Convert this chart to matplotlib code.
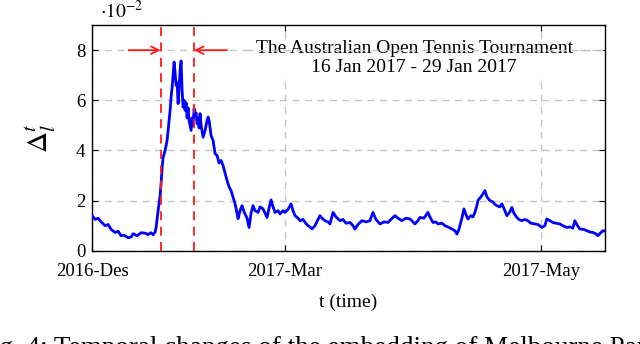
import matplotlib
matplotlib.use("Agg")
import matplotlib.pyplot as plt
import numpy as np

plt.rcParams.update(
    {
        "font.family": "Liberation Serif",
        "mathtext.fontset": "stix",
        "font.size": 13.5,
    }
)

# sample index along the time axis and Delta_l^t readings (in units of 1e-2)
t = [0, 3, 6, 9, 13, 16, 19, 23, 26, 29, 32, 36, 39, 41, 45, 49, 53, 56, 59, 61,
     63, 64, 66, 68, 69, 70, 71, 73, 75, 77, 78, 79, 80, 81, 82, 83, 84, 85, 86, 87,
     88, 89, 90, 91, 92, 93, 94, 95, 96, 97, 98, 99, 100, 101, 102, 103, 104, 105, 106, 107,
     108, 109, 111, 113, 115, 116, 117, 119, 121, 123, 125, 127, 129, 131, 133, 135, 137, 139, 140, 142,
     143, 145, 146, 148, 150, 152, 153, 155, 157, 159, 161, 163, 166, 168, 171, 173, 175, 177, 179, 181,
     183, 186, 188, 191, 193, 196, 199, 201, 203, 206, 208, 211, 213, 216, 218, 220, 223, 226, 228, 230,
     233, 236, 238, 241, 244, 248, 251, 254, 258, 261, 263, 266, 270, 274, 278, 281, 284, 288, 292, 296,
     299, 303, 306, 310, 314, 318, 321, 323, 326, 328, 332, 336, 338, 341, 344, 346, 350, 353, 356, 360,
     363, 365, 367, 368, 370, 372, 374, 376, 379, 381, 383, 385, 386, 388, 390, 393, 395, 398, 401, 403,
     405, 408, 410, 413, 415, 418, 420, 422, 425, 427, 430, 433, 436, 439, 443, 446, 450, 453, 455, 458,
     461, 464, 468, 471, 475, 478, 481, 483, 485, 488, 492, 495, 498, 501, 504, 506, 509, 511, 513]
delta = [1.40, 1.25, 1.30, 1.15, 1.00, 1.05, 0.85, 0.73, 0.78, 0.60, 0.62, 0.52, 0.55, 0.68, 0.60, 0.72, 0.70, 0.65, 0.72, 0.64,
         0.75, 0.93, 1.60, 2.20, 2.70, 3.30, 3.73, 4.00, 4.40, 5.20, 5.60, 6.13, 6.50, 7.00, 7.53, 7.10, 6.60, 6.70, 5.87, 6.50,
         7.20, 7.57, 6.40, 5.73, 6.00, 5.60, 5.90, 5.30, 5.70, 5.20, 5.00, 4.80, 5.30, 5.00, 5.67, 5.40, 5.50, 5.07, 5.30, 4.90,
         5.47, 5.00, 4.53, 4.80, 5.20, 5.33, 5.20, 4.60, 4.40, 3.87, 3.80, 3.50, 3.60, 3.40, 3.10, 2.80, 2.55, 2.40, 2.27, 2.00,
         1.87, 1.50, 1.28, 1.60, 1.80, 1.55, 1.47, 1.30, 0.93, 1.50, 1.80, 1.60, 1.53, 1.75, 1.67, 1.50, 1.33, 1.70, 2.03, 1.75,
         1.53, 1.60, 1.47, 1.60, 1.53, 1.65, 1.87, 1.60, 1.40, 1.30, 1.20, 1.25, 1.13, 1.00, 0.95, 0.87, 1.00, 1.25, 1.40, 1.30,
         1.20, 1.15, 1.07, 1.53, 1.35, 1.20, 1.25, 1.10, 1.13, 1.00, 0.87, 1.05, 1.20, 1.15, 1.20, 1.53, 1.25, 1.07, 1.15, 1.13,
         1.25, 1.40, 1.30, 1.20, 1.30, 1.27, 1.15, 1.07, 1.20, 1.33, 1.30, 1.53, 1.35, 1.13, 1.15, 1.07, 1.10, 1.00, 0.95, 0.87,
         0.80, 0.67, 0.85, 1.00, 1.30, 1.67, 1.45, 1.27, 1.40, 1.35, 1.53, 1.80, 2.00, 2.10, 2.20, 2.40, 2.15, 2.00, 1.95, 1.85,
         1.80, 1.75, 1.87, 1.60, 1.40, 1.55, 1.73, 1.50, 1.33, 1.25, 1.20, 1.25, 1.20, 1.10, 1.07, 1.05, 0.93, 1.00, 1.27, 1.20,
         1.13, 1.10, 1.07, 1.00, 0.93, 0.95, 0.90, 1.20, 1.05, 0.87, 0.85, 0.80, 0.75, 0.73, 0.68, 0.60, 0.72, 0.80, 0.78]

tick_pos = [0, 193, 449]
tick_labels = ["2016-Des", "2017-Mar", "2017-May"]
event_start, event_end = 68.5, 102  # 16 Jan 2017, 29 Jan 2017
t_end = 513

GRID = "#c4c4c4"
RED = "#ff1a1a"
DASH = (0, (5, 4))

fig = plt.figure(figsize=(6.4, 3.44), dpi=100)
ax = fig.add_axes([0.144, 0.271, 0.801, 0.656])

ax.plot(t, delta, color="#0000ff", lw=2.0, zorder=3)

ax.set_xlim(0, t_end)
ax.set_ylim(0, 9)
ax.set_xticks(tick_pos, tick_labels)
ax.set_yticks([0, 2, 4, 6, 8])
ax.tick_params(direction="in", top=True, right=True, length=4, width=0.8, labelsize=13.5)
ax.tick_params(axis="x", pad=9)
ax.tick_params(axis="y", pad=5)
ax.grid(True, color=GRID, ls=DASH, lw=1.0)
for spine in ax.spines.values():
    spine.set_linewidth(1.0)

for x in (event_start, event_end):
    ax.axvline(x, color=RED, ls=(0, (5, 3.5)), lw=1.3, zorder=4)

arrow = dict(arrowstyle="->", color=RED, lw=1.3, shrinkA=0, shrinkB=0)
ax.annotate("", xy=(event_start, 8), xytext=(event_start - 32, 8), arrowprops=arrow)
ax.annotate("", xy=(event_end, 8), xytext=(event_end + 33, 8), arrowprops=arrow)

ax.text(0.628, 0.855, "The Australian Open Tennis Tournament\n16 Jan 2017 - 29 Jan 2017",
        transform=ax.transAxes, ha="center", va="center", fontsize=14, linespacing=1.12,
        bbox=dict(facecolor="white", edgecolor="none", pad=0.5), zorder=2.2)
# the y=8 grid line runs through the caption in the original
ax.axhline(8, xmin=0.3, xmax=1, color=GRID, ls=DASH, lw=1.0, zorder=2.3)

ax.set_xlabel("t (time)", fontsize=14, labelpad=10)
ax.set_ylabel(r"$\Delta_l^t$", fontsize=21, labelpad=13)
ax.text(0.015, 1.03, r"$\cdot 10^{-2}$", transform=ax.transAxes, fontsize=14, va="baseline")

fig.text(-0.036, 0.023, "Fig. 4: Temporal changes of the embedding of Melbourne Park",
         fontsize=19.5, va="top", ha="left")

fig.savefig("out.png", dpi=100)
